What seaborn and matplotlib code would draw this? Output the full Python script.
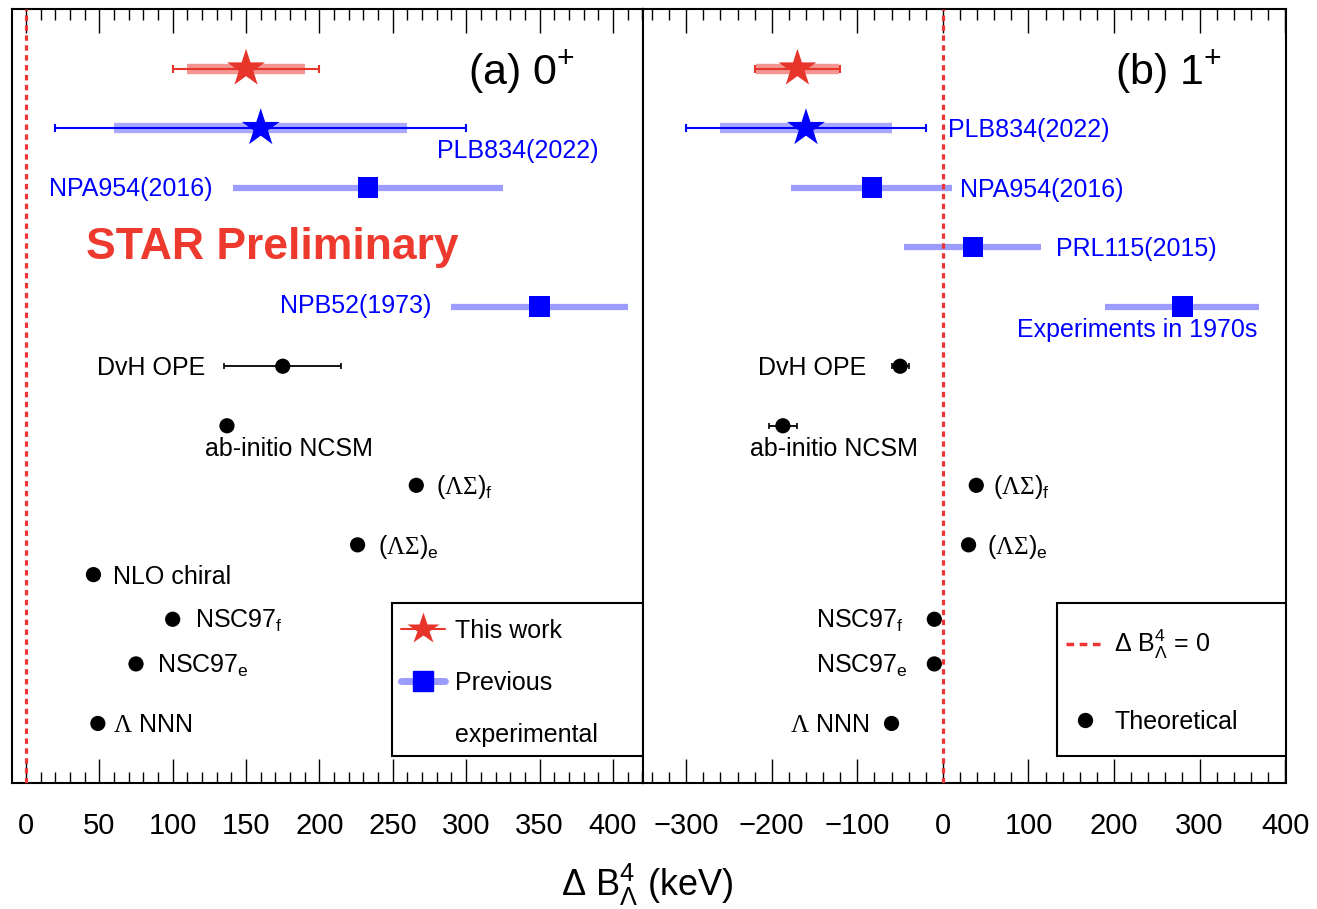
import numpy as np
import pandas as pd
import seaborn as sns
import matplotlib
matplotlib.use("Agg")
import matplotlib.pyplot as plt
from matplotlib.lines import Line2D
from matplotlib.patches import Rectangle
from matplotlib.ticker import MultipleLocator

# ---------------- data (keV) ----------------
# panel (a): 0+ state
this_work_0 = 150.0
this_stat_0 = 50.0
this_syst_0 = 40.0
plb834_0 = 160.0
plb834_stat_0 = 140.0
plb834_syst_0 = 100.0
exp_names_0 = ["NPA954(2016)", "NPB52(1973)"]
exp_vals_0 = [233.0, 350.0]
exp_errs_0 = [92.0, 60.0]
theory_names_0 = ["DvH OPE", "ab-initio NCSM", "LSf", "LSe", "NLO chiral", "NSC97f", "NSC97e", "LNNN"]
theory_vals_0 = [175.0, 137.0, 266.0, 226.0, 46.0, 100.0, 75.0, 49.0]
theory_errs_0 = [40.0, 0.0, 0.0, 0.0, 0.0, 0.0, 0.0, 0.0]

# panel (b): 1+ state
this_work_1 = -170.0
this_stat_1 = 50.0
this_syst_1 = 48.0
plb834_1 = -160.0
plb834_stat_1 = 140.0
plb834_syst_1 = 100.0
exp_names_1 = ["NPA954(2016)", "PRL115(2015)", "Experiments in 1970s"]
exp_vals_1 = [-83.0, 35.0, 280.0]
exp_errs_1 = [94.0, 80.0, 90.0]
theory_names_1 = ["DvH OPE", "ab-initio NCSM", "LSf", "LSe", "NSC97f", "NSC97e", "LNNN"]
theory_vals_1 = [-50.0, -187.0, 39.0, 30.0, -10.0, -10.0, -60.0]
theory_errs_1 = [10.0, 16.0, 0.0, 0.0, 0.0, 0.0, 0.0]

# ---------------- layout ----------------
row_of = {"This work": 0, "PLB834(2022)": 1, "NPA954(2016)": 2, "PRL115(2015)": 3,
          "NPB52(1973)": 4, "Experiments in 1970s": 4, "DvH OPE": 5, "ab-initio NCSM": 6,
          "LSf": 7, "LSe": 8, "NLO chiral": 8.5, "NSC97f": 9.25, "NSC97e": 10, "LNNN": 11}
display = {"LSf": r"($\mathsf{\Lambda\Sigma}$)$_{\rm f}$",
           "LSe": r"($\mathsf{\Lambda\Sigma}$)$_{\rm e}$",
           "NSC97f": r"NSC97$_{\rm f}$", "NSC97e": r"NSC97$_{\rm e}$",
           "LNNN": r"$\mathsf{\Lambda}$ NNN"}
# label offsets in pixels (dx right, dy down), alignment
lab_off_0 = {"PLB834(2022)": (176, 21, "left"), "NPA954(2016)": (-155, -1, "right"),
             "NPB52(1973)": (-108, -3, "right"), "DvH OPE": (-77, 0, "right"),
             "ab-initio NCSM": (62, 21, "center"), "LSf": (20, 0, "left"), "LSe": (20, 0, "left"),
             "NLO chiral": (20, 0, "left"), "NSC97f": (22, 0, "left"), "NSC97e": (21, 0, "left"),
             "LNNN": (15, 0, "left")}
lab_off_1 = {"PLB834(2022)": (142, 0, "left"), "NPA954(2016)": (88, 0, "left"),
             "PRL115(2015)": (83, 0, "left"), "Experiments in 1970s": (-45, 21, "center"),
             "DvH OPE": (-34, 0, "right"), "ab-initio NCSM": (51, 21, "center"),
             "LSf": (17, 0, "left"), "LSe": (18, 0, "left"), "NSC97f": (-31, 0, "right"),
             "NSC97e": (-27, 0, "right"), "LNNN": (-22, 0, "right")}

RED = "#E8352B"
RED_BAND = "#EE6A62"
BLUE = "#0000FF"
BLUE_BAND = "#9C9CFF"
ZERO_RED = "#EE3535"

sns.set_theme(style="ticks")
plt.rcParams["font.family"] = ["Liberation Sans", "DejaVu Sans"]
plt.rcParams["mathtext.fontset"] = "custom"
plt.rcParams["mathtext.rm"] = "Liberation Sans"
plt.rcParams["mathtext.it"] = "Liberation Sans:italic"
plt.rcParams["mathtext.sf"] = "Liberation Serif"
plt.rcParams["text.color"] = "black"
plt.rcParams["axes.labelcolor"] = "black"
plt.rcParams["xtick.color"] = "black"
plt.rcParams["ytick.color"] = "black"
plt.rcParams["axes.edgecolor"] = "black"

W, H = 1317, 909
fig = plt.figure(figsize=(W / 100, H / 100), dpi=100)
axL = fig.add_axes([12 / W, 1 - 783 / H, 631 / W, 774 / H])
axR = fig.add_axes([643 / W, 1 - 783 / H, 643 / W, 774 / H])

PX = 0.72  # points per pixel


def label(ax, key, x, y, off, color="black", size=18):
    dx, dy, ha = off
    txt = display.get(key, key)
    ax.annotate(txt, xy=(x, y), xytext=(dx * PX, -(dy + 9) * PX), textcoords="offset points",
                ha=ha, va="baseline", color=color, fontsize=size, zorder=5)


def panel(ax, tw, tstat, tsyst, plb, pstat, psyst, enames, evals, eerrs,
          tnames, tvals, terrs, offs):
    # this work
    r0 = row_of["This work"]
    ax.hlines(r0, tw - tsyst, tw + tsyst, colors=RED_BAND, lw=7.5, alpha=0.7, zorder=2)
    ax.errorbar([tw], [r0], xerr=[tstat], fmt="none", ecolor=RED, elinewidth=1.5,
                capsize=3, capthick=1.5, zorder=3)
    sns.scatterplot(x=[tw], y=[r0], marker="*", s=820, color=RED, edgecolor="none",
                    ax=ax, zorder=4, legend=False)
    # PLB834 (2022)
    r1 = row_of["PLB834(2022)"]
    ax.hlines(r1, plb - psyst, plb + psyst, colors="#7070FF", lw=7.5, alpha=0.6, zorder=2)
    ax.errorbar([plb], [r1], xerr=[pstat], fmt="none", ecolor=BLUE, elinewidth=1.5,
                capsize=3, capthick=1.5, zorder=3)
    sns.scatterplot(x=[plb], y=[r1], marker="*", s=820, color=BLUE, edgecolor="none",
                    ax=ax, zorder=4, legend=False)
    label(ax, "PLB834(2022)", plb, r1, offs["PLB834(2022)"], color=BLUE)
    # previous experiments
    erows = [row_of[n] for n in enames]
    ax.hlines(erows, np.array(evals) - np.array(eerrs), np.array(evals) + np.array(eerrs),
              colors=BLUE_BAND, lw=4.5, zorder=2)
    sns.scatterplot(x=evals, y=erows, marker="s", s=220, color=BLUE, edgecolor="none",
                    ax=ax, zorder=4, legend=False)
    for n, v, r in zip(enames, evals, erows):
        label(ax, n, v, r, offs[n], color=BLUE)
    # theory
    trows = [row_of[n] for n in tnames]
    for v, e, r in zip(tvals, terrs, trows):
        if e > 0:
            ax.errorbar([v], [r], xerr=[e], fmt="none", ecolor="black", elinewidth=1.3,
                        capsize=2.5, capthick=1.2, zorder=3)
    sns.scatterplot(x=tvals, y=trows, marker="o", s=120, color="black", edgecolor="none",
                    ax=ax, zorder=4, legend=False)
    for n, v, r in zip(tnames, tvals, trows):
        label(ax, n, v, r, offs[n])
    # zero line
    ax.axvline(0, color=ZERO_RED, lw=2.3, ls=(0, (1.7, 1.4)), zorder=4.5)


panel(axL, this_work_0, this_stat_0, this_syst_0, plb834_0, plb834_stat_0, plb834_syst_0,
      exp_names_0, exp_vals_0, exp_errs_0, theory_names_0, theory_vals_0, theory_errs_0, lab_off_0)
panel(axR, this_work_1, this_stat_1, this_syst_1, plb834_1, plb834_stat_1, plb834_syst_1,
      exp_names_1, exp_vals_1, exp_errs_1, theory_names_1, theory_vals_1, theory_errs_1, lab_off_1)

axL.set_xlim(-9.5, 420.5)
axR.set_xlim(-350.5, 401)
for ax, maj, mnr in ((axL, 50, 10), (axR, 100, 20)):
    ax.set_ylim(12, -1)
    ax.set_yticks([])
    ax.set_xlabel("")
    ax.set_ylabel("")
    ax.xaxis.set_major_locator(MultipleLocator(maj))
    ax.xaxis.set_minor_locator(MultipleLocator(mnr))
    ax.tick_params(axis="x", which="both", direction="in", top=True, bottom=True,
                   labeltop=False, colors="black", labelcolor="black", width=1.0)
    ax.tick_params(axis="x", which="major", length=17, labelsize=21, pad=21)
    ax.tick_params(axis="x", which="minor", length=8)
    for sp in ax.spines.values():
        sp.set_visible(True)
        sp.set_linewidth(1.5)
        sp.set_color("black")
    ax.set_facecolor("white")

# panel titles / annotations
axL.text(0.7227, 0.9186, r"(a) 0$^{+}$", transform=axL.transAxes, fontsize=31,
         ha="left", va="center", zorder=5, color="black")
axR.text((1115 - 643) / 643, 0.9186, r"(b) 1$^{+}$", transform=axR.transAxes, fontsize=31,
         ha="left", va="center", zorder=5, color="black")
axL.text((86 - 12) / 631, (783 - 247) / 774, "STAR Preliminary", transform=axL.transAxes,
         fontsize=32, fontweight="bold", color="#EE3A2E", ha="left", va="center", zorder=5)

# legend (a)
axL.add_patch(Rectangle(((392 - 12) / 631, (783 - 756) / 774), (643 - 392) / 631, 153 / 774,
                        transform=axL.transAxes, facecolor="white", edgecolor="black",
                        lw=1.5, zorder=6))
hA = [Line2D([], [], color=RED, lw=1.5, marker="*", ms=24, mec="none"),
      Line2D([], [], color=BLUE_BAND, lw=5, marker="s", ms=14, mfc=BLUE, mec=BLUE),
      Line2D([], [], color="none")]
legA = axL.legend(hA, ["This work", "Previous", "experimental"], loc="upper left",
                  bbox_to_anchor=((401 - 12) / 631, (783 - 619) / 774), frameon=False,
                  fontsize=18, handlelength=1.76, handletextpad=0.4, labelspacing=1.12,
                  borderpad=0, borderaxespad=0, labelcolor="black")
legA.set_zorder(7)

# legend (b)
axR.add_patch(Rectangle(((1057 - 643) / 643, (783 - 756) / 774), (1286 - 1057) / 643, 153 / 774,
                        transform=axR.transAxes, facecolor="white", edgecolor="black",
                        lw=1.5, zorder=6))
hB = [Line2D([], [], color=ZERO_RED, lw=2.5, ls=(0, (2.2, 1.6))),
      Line2D([], [], color="none", marker="o", ms=10, mfc="black", mec="black")]
legB = axR.legend(hB, [r"Δ B$^{4}_{\Lambda}$ = 0", "Theoretical"], loc="upper left",
                  bbox_to_anchor=((1066 - 643) / 643, (783 - 628) / 774), frameon=False,
                  fontsize=18, handlelength=1.52, handletextpad=0.42, labelspacing=1.95,
                  borderpad=0, borderaxespad=0, labelcolor="black")
legB.set_zorder(7)

fig.text(647 / W, 1 - 885 / H, r"Δ B$^{4}_{\Lambda}$ (keV)", ha="center", va="center",
         fontsize=26, color="black")

fig.savefig("out.png", dpi=100, facecolor="white")
